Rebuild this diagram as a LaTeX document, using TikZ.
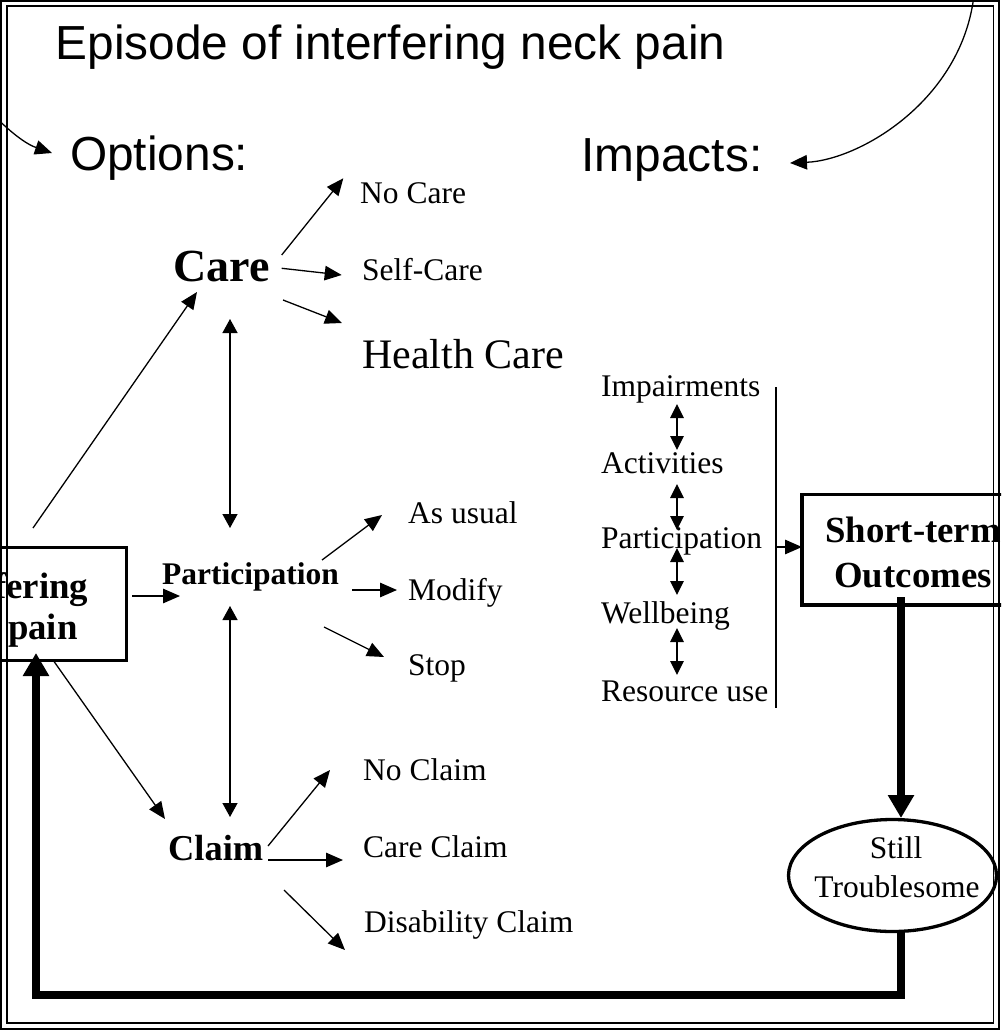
\documentclass[tikz,border=0pt]{standalone}
\usepackage{fontspec}
\setmainfont{Liberation Serif}
\newfontfamily\hsans{Liberation Sans}
\usetikzlibrary{arrows.meta,shapes.geometric}
\begin{document}
\begin{tikzpicture}[x=1pt,y=-1pt,
  lbl/.style={anchor=base west, inner sep=0pt, font=\fontsize{31.5}{36}\selectfont},
  boldlbl/.style={anchor=base west, inner sep=0pt, font=\bfseries\fontsize{#1}{40}\selectfont},
  boxtxt/.style={anchor=base, inner sep=0pt, font=\bfseries\fontsize{36.8}{40}\selectfont},
  ovaltxt/.style={anchor=base, inner sep=0pt, font=\fontsize{31.5}{36}\selectfont},
  headtxt/.style={anchor=base west, inner sep=0pt, font=\hsans\fontsize{47.8}{52}\selectfont},
  thinarr/.style={line width=1.3pt, -{Triangle[length=17pt,width=14.5pt]}},
  dblarr/.style={line width=1.3pt, {Triangle[length=14pt,width=15pt]}-{Triangle[length=14pt,width=15pt]}},
  listarr/.style={line width=1.3pt, {Triangle[length=14pt,width=13.5pt]}-{Triangle[length=14pt,width=13.5pt]}},
  fatarr/.style={line width=7.5pt, line join=miter, -{Triangle[length=23pt,width=25pt]}},
  heavybox/.style={draw, line width=3.3pt, inner sep=0pt}
]
\clip (0,0) rectangle (1001,1030);
% frame
\draw[line width=1.7pt] (1,1) rectangle (999.2,1028.8);
\draw[line width=1.5pt] (6.8,6.2) rectangle (993.6,1023.2);

% headings
\node[headtxt] (title) at (55.5,60) {Episode of interfering neck pain};
\node[headtxt] (options) at (70,170.5) {Options:};
\node[headtxt] (impacts) at (581.5,171) {Impacts:};

% options column
\node[boldlbl=46] (care) at (173.5,281) {Care};
\node[lbl] (nocare) at (360,203) {No Care};
\node[lbl] (selfcare) at (362,280) {Self-Care};
\node[lbl, font=\fontsize{42}{46}\selectfont] (health) at (362,368) {Health Care};
\node[boldlbl=31.5] (part) at (162,584) {Participation};
\node[lbl] (asusual) at (408,523) {As usual};
\node[lbl] (modify) at (408,600) {Modify};
\node[lbl] (stop) at (408,675) {Stop};
\node[boldlbl=36.4] (claim) at (168,860) {Claim};
\node[lbl] (noclaim) at (363,780) {No Claim};
\node[lbl] (careclaim) at (363,857) {Care Claim};
\node[lbl] (disclaim) at (364,932) {Disability Claim};

% impacts column
\node[lbl] (imp) at (601,396) {Impairments};
\node[lbl] (act) at (601,473) {Activities};
\node[lbl] (rpart) at (601,548) {Participation};
\node[lbl] (well) at (601,623) {Wellbeing};
\node[lbl] (res) at (601,701) {Resource use};

% boxes
\node[heavybox, minimum width=250.4pt, minimum height=113.2pt] (painbox) at (1.5,603.9) {};
\node[boxtxt] (pain1) at (1.5,598) {Interfering};
\node[boxtxt] (pain2) at (1.5,639) {neck pain};
\node[heavybox, minimum width=222pt, minimum height=110.3pt] (stbox) at (913,549.85) {};
\node[boxtxt] (st1) at (913,542) {Short-term};
\node[boxtxt] (st2) at (913,587) {Outcomes};
\node[heavybox, ellipse, minimum width=208pt, minimum height=112pt] (still) at (892.5,875.5) {};
\node[ovaltxt] (still1) at (896,858) {Still};
\node[ovaltxt] (still2) at (897,897) {Troublesome};

% connector end points
\coordinate (lc0) at (-20,100);
\coordinate (lc1) at (52,153);
\coordinate (rc0) at (974,-5);
\coordinate (rc1) at (790,163);
\coordinate (cNoA) at (281.7,255);   \coordinate (cNoB) at (343.3,178.3);
\coordinate (cSelfA) at (281.7,268.3); \coordinate (cSelfB) at (341.7,275);
\coordinate (cHealthA) at (283,300); \coordinate (cHealthB) at (342,323);
\coordinate (pCareA) at (33,528);    \coordinate (pCareB) at (197,292);
\coordinate (cpA) at (230,319);      \coordinate (cpB) at (230,528);
\coordinate (ppA) at (132,596);      \coordinate (ppB) at (180,596);
\coordinate (pUsA) at (322,560);     \coordinate (pUsB) at (382,515);
\coordinate (pModA) at (352,590);    \coordinate (pModB) at (397,590);
\coordinate (pStA) at (324,627);     \coordinate (pStB) at (384,657);
\coordinate (pcA) at (230,606);      \coordinate (pcB) at (230,817);
\coordinate (pClA) at (53,660);      \coordinate (pClB) at (165,819);
\coordinate (clNoA) at (268,846);    \coordinate (clNoB) at (330,770);
\coordinate (clCaA) at (268,860);    \coordinate (clCaB) at (343,860);
\coordinate (clDiA) at (284,890);    \coordinate (clDiB) at (345,950);
\coordinate (i1a) at (677,404); \coordinate (i1b) at (677,450);
\coordinate (i2a) at (677,484); \coordinate (i2b) at (677,530);
\coordinate (i3a) at (677,548); \coordinate (i3b) at (677,595);
\coordinate (i4a) at (677,628); \coordinate (i4b) at (677,675);
\coordinate (brTop) at (776,387);  \coordinate (brBot) at (776,708);
\coordinate (brMid) at (776,547);  \coordinate (brTip) at (802,547);
\coordinate (fatA) at (901,597);   \coordinate (fatB) at (901,818);
\coordinate (loopA) at (901,931);  \coordinate (loopB) at (901,995);
\coordinate (loopC) at (36,995);   \coordinate (loopD) at (36,653);

% curved arrows from the frame
\draw[thinarr] (lc0) .. controls (-5,118) and (20,142) .. (lc1);
\draw[thinarr] (rc0) .. controls (962,100) and (860,160) .. (rc1);

% option arrows
\draw[thinarr] (cNoA) -- (cNoB);
\draw[thinarr] (cSelfA) -- (cSelfB);
\draw[thinarr] (cHealthA) -- (cHealthB);
\draw[thinarr] (pCareA) -- (pCareB);
\draw[dblarr] (cpA) -- (cpB);
\draw[thinarr] (ppA) -- (ppB);
\draw[thinarr] (pUsA) -- (pUsB);
\draw[thinarr] (pModA) -- (pModB);
\draw[thinarr] (pStA) -- (pStB);
\draw[dblarr] (pcA) -- (pcB);
\draw[thinarr] (pClA) -- (pClB);
\draw[thinarr] (clNoA) -- (clNoB);
\draw[thinarr] (clCaA) -- (clCaB);
\draw[thinarr] (clDiA) -- (clDiB);

% impacts arrows
\draw[listarr] (i1a) -- (i1b);
\draw[listarr] (i2a) -- (i2b);
\draw[listarr] (i3a) -- (i3b);
\draw[listarr] (i4a) -- (i4b);
\draw[line width=1.3pt] (brTop) -- (brBot);
\draw[thinarr] (brMid) -- (brTip);

% heavy flow
\draw[fatarr] (fatA) -- (fatB);
\draw[fatarr] (loopA) -- (loopB) -- (loopC) -- (loopD);
\end{tikzpicture}
\end{document}
